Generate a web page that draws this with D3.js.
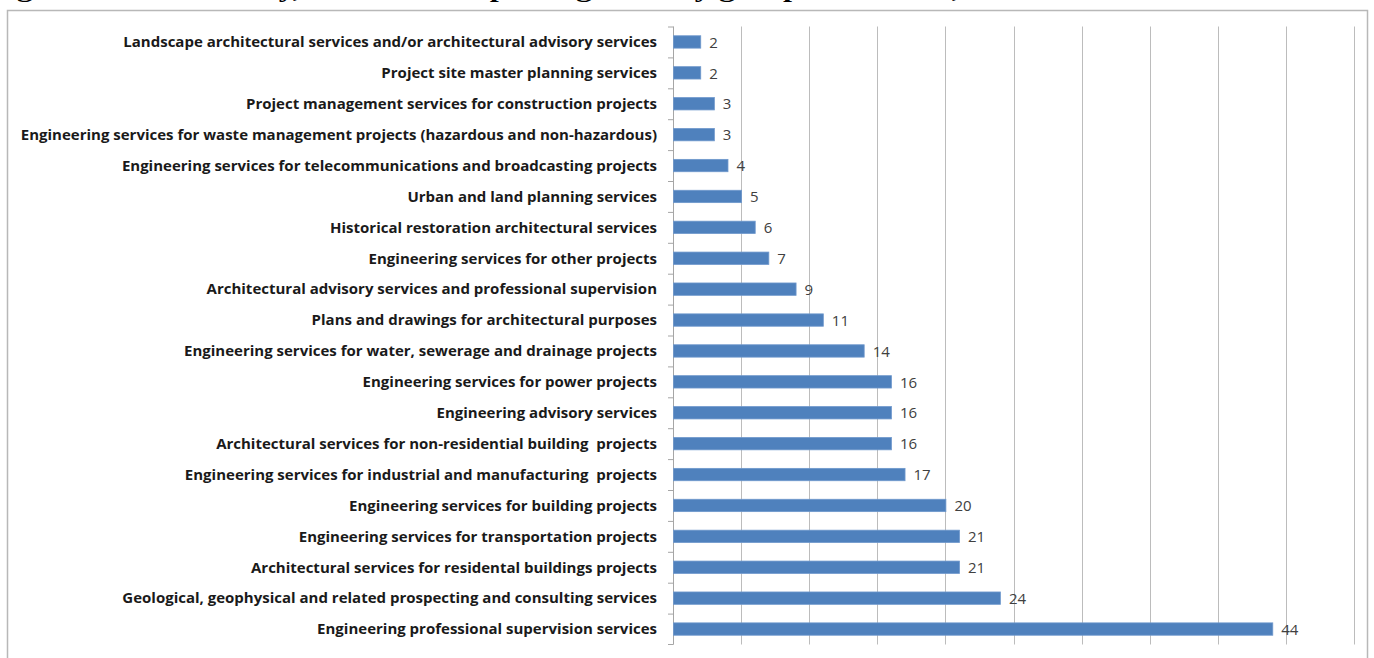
<!DOCTYPE html>
<html>
<head>
<meta charset="utf-8">
<script src="https://cdn.jsdelivr.net/npm/d3@7"></script>
<style>
  body { margin: 0; background: #fff; overflow: hidden; }
  svg { display: block; }
</style>
</head>
<body>
<svg id="chart" width="1374" height="658"></svg>
<script>
// Kategorien von oben nach unten
const categories = [
    "Landscape architectural services and/or architectural advisory services",
    "Project site master planning services",
    "Project management services for construction projects",
    "Engineering services for waste management projects (hazardous and non-hazardous)",
    "Engineering services for telecommunications and broadcasting projects",
    "Urban and land planning services",
    "Historical restoration architectural services",
    "Engineering services for other projects",
    "Architectural advisory services and professional supervision",
    "Plans and drawings for architectural purposes",
    "Engineering services for water, sewerage and drainage projects",
    "Engineering services for power projects",
    "Engineering advisory services",
    "Architectural services for non-residential building  projects",
    "Engineering services for industrial and manufacturing  projects",
    "Engineering services for building projects",
    "Engineering services for transportation projects",
    "Architectural services for residental buildings projects",
    "Geological, geophysical and related prospecting and consulting services",
    "Engineering professional supervision services"
];
const values = [2, 2, 3, 3, 4, 5, 6, 7, 9, 11, 14, 16, 16, 16, 17, 20, 21, 21, 24, 44];
const gridTicks = [0, 5, 10, 15, 20, 25, 30, 35, 40, 45, 50];
const titleText = "Figure 8.3: ISS survey, number of reporting units by group of services, 2016";

const svg = d3.select("#chart");

// Titel (oben abgeschnitten wie im Original)
svg.append("text")
    .attr("x", -12)
    .attr("y", -3)
    .attr("font-family", "Liberation Serif, serif")
    .attr("font-weight", "bold")
    .attr("font-size", 24)
    .attr("textLength", 1045)
    .attr("lengthAdjust", "spacingAndGlyphs")
    .attr("fill", "#000")
    .text(titleText);

// Rahmen
svg.append("rect")
    .attr("x", 7.5)
    .attr("y", 10.5)
    .attr("width", 1360)
    .attr("height", 660)
    .attr("fill", "#fff")
    .attr("stroke", "#b8b8b8")
    .attr("stroke-width", 1.5);

// Skalen
const x = d3.scaleLinear().domain([0, 50]).range([673, 1354]);
const y = d3.scaleBand().domain(categories).range([26.5, 644.5]).paddingInner(0.6).paddingOuter(0.3);
const band = d3.scaleBand().domain(categories).range([26.5, 644.5]);

// Gitterlinien
svg.append("g")
    .selectAll("line")
    .data(gridTicks.slice(1))
    .join("line")
    .attr("x1", d => Math.round(x(d)) + 0.5)
    .attr("x2", d => Math.round(x(d)) + 0.5)
    .attr("y1", 26.5)
    .attr("y2", 644.5)
    .attr("stroke", "#bcbcbc")
    .attr("stroke-width", 1);

// Y-Achse mit kleinen Ticks
const axis = svg.append("g");
axis.append("line")
    .attr("x1", 673.5).attr("x2", 673.5)
    .attr("y1", 26.5).attr("y2", 644.5)
    .attr("stroke", "#a6a6a6");
axis.selectAll(".tick")
    .data(categories.concat([null]))
    .join("line")
    .attr("class", "tick")
    .attr("x1", 668).attr("x2", 673.5)
    .attr("y1", d => d === null ? 644.5 : band(d) + 0.5)
    .attr("y2", d => d === null ? 644.5 : band(d) + 0.5)
    .attr("stroke", "#a6a6a6");

// Balken
svg.append("g")
    .selectAll("rect")
    .data(categories)
    .join("rect")
    .attr("x", x(0) + 0.5)
    .attr("y", d => y(d))
    .attr("width", (d, i) => x(values[i]) - x(0))
    .attr("height", y.bandwidth())
    .attr("fill", "#4f81bd")
    .attr("stroke", "#6f98cc")
    .attr("stroke-width", 0.8);

// Kategorienbeschriftung
svg.append("g")
    .selectAll("text")
    .data(categories)
    .join("text")
    .attr("x", 657)
    .attr("y", d => band(d) + band.bandwidth() / 2)
    .attr("dy", "0.35em")
    .attr("text-anchor", "end")
    .attr("font-family", "Open Sans, sans-serif")
    .attr("font-weight", "bold")
    .attr("font-size", 15)
    .attr("fill", "#1a1a1a")
    .style("white-space", "pre")
    .text(d => d);

// Wertebeschriftung
svg.append("g")
    .selectAll("text")
    .data(categories)
    .join("text")
    .attr("x", (d, i) => x(values[i]) + 9)
    .attr("y", d => band(d) + band.bandwidth() / 2)
    .attr("dy", "0.38em")
    .attr("font-family", "Open Sans, sans-serif")
    .attr("font-size", 15)
    .attr("fill", "#404040")
    .text((d, i) => values[i]);
</script>
</body>
</html>
